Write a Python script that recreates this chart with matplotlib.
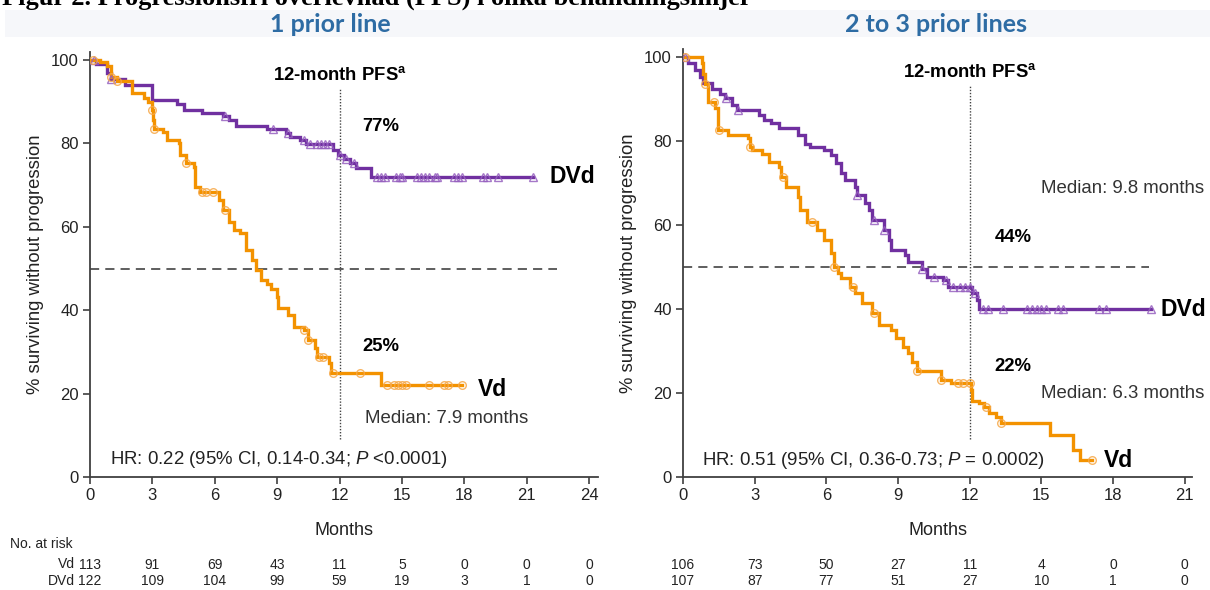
import numpy as np
import matplotlib
matplotlib.use("Agg")
import matplotlib.pyplot as plt
import matplotlib.transforms as mtransforms
from matplotlib.patches import Rectangle

# ----- fonts -----
plt.rcParams['font.family'] = ['Liberation Sans', 'DejaVu Sans']
plt.rcParams['mathtext.fontset'] = 'custom'
plt.rcParams['mathtext.rm'] = 'Liberation Sans'
plt.rcParams['mathtext.it'] = 'Liberation Sans:italic'
plt.rcParams['mathtext.bf'] = 'Liberation Sans:bold'
plt.rcParams['mathtext.default'] = 'regular'

# ----- colours -----
PURPLE = "#7030a0"
ORANGE = "#f39200"
PURPLE_MK = "#9660bf"
ORANGE_MK = "#f6a849"
AXIS = "#404040"
TITLE_BLUE = "#2e6ca4"

# ----- data: 1 prior line -----
L_VD_T = [0, 0.5, 0.8, 1.0, 1.3, 2.0, 2.6, 2.8, 3.0, 3.05, 3.1, 3.5, 3.7, 4.3, 4.35, 4.6,
          5.0, 5.05, 5.3, 6.2, 6.4, 6.7, 6.9, 7.2, 7.5, 7.8, 8.0, 8.2, 8.5, 8.7, 9.0, 9.05,
          9.5, 9.8, 10.3, 10.5, 10.8, 10.9, 11.5, 11.6, 14.0, 17.9]
L_VD_S = [100, 99.5, 98.5, 96, 95, 92, 91, 90, 88, 85.5, 83.5, 82.8, 80.8, 80, 77.2, 75.3,
          74.4, 69.6, 68.4, 66.4, 64, 61.2, 59.2, 58.4, 54.4, 52, 49.6, 47.2, 46.4, 45.2, 43.2, 40.5,
          38.8, 36, 35.2, 32.8, 30.9, 28.8, 27.3, 24.9, 22, 22]
L_VD_C = [0.15, 1.0, 1.3, 3.0, 3.1, 4.6, 5.4, 5.6, 5.9, 6.5, 10.3, 10.5, 11.0, 11.2, 11.7,
          13.0, 14.3, 14.6, 14.8, 15.0, 15.2, 16.3, 17.0, 17.2, 17.9]

L_DVD_T = [0, 0.3, 0.8, 1.0, 1.7, 3.0, 4.2, 4.5, 5.4, 6.4, 6.7, 7.0, 8.5, 9.4, 9.6, 10.1,
           10.4, 11.7, 11.9, 12.2, 12.5, 12.8, 13.5, 21.3]
L_DVD_S = [100, 99, 97, 95.5, 94, 90.5, 89.5, 88, 87.4, 86.5, 85.5, 84.2, 83.5, 82.5, 81.5, 80.8,
           79.8, 78.5, 77.2, 76.2, 75.2, 74.2, 72, 72]
L_DVD_C = [0.2, 1.0, 6.5, 8.8, 9.5, 10.3, 10.6, 10.9, 11.1, 11.3, 11.5, 12.0, 12.3, 12.7,
           13.8, 14.0, 14.2, 14.7, 14.9, 15.0, 15.7, 15.9, 16.1, 16.3, 16.6, 16.7, 17.5, 17.7,
           17.9, 18.9, 19.1, 19.6, 21.3]

L_TICKS = [0, 3, 6, 9, 12, 15, 18, 21, 24]
L_RISK_VD = [113, 91, 69, 43, 11, 5, 0, 0, 0]
L_RISK_DVD = [122, 109, 104, 99, 59, 19, 3, 1, 0]

# ----- data: 2 to 3 prior lines -----
R_VD_T = [0, 0.8, 0.85, 0.9, 1.05, 1.35, 1.45, 1.9, 2.7, 2.8, 2.9, 3.3, 3.6, 4.0, 4.1, 4.3,
          4.8, 4.9, 5.2, 5.6, 5.9, 6.2, 6.3, 6.5, 6.6, 7.0, 7.2, 7.5, 7.9, 8.2, 8.7, 8.9,
          9.2, 9.4, 9.6, 9.8, 10.8, 11.2, 12.05, 12.1, 12.4, 12.6, 12.8, 13.1, 13.3, 15.35,
          16.3, 16.6, 17.1]
R_VD_S = [100, 98.5, 96, 93.5, 89.4, 87.8, 82.6, 81.4, 80.7, 78.6, 77.9, 77, 75.1, 73.9, 71.5, 69.1,
          66.7, 63.6, 60.8, 58.8, 56.4, 53.3, 50.1, 48.6, 47.5, 45.3, 43.8, 41.4, 39, 36.2, 35, 33.1,
          31, 29.5, 27.5, 25.2, 23.1, 22.4, 20.7, 18, 17.6, 16.7, 15.2, 14.4, 12.8, 10,
          6.4, 4, 4]
R_VD_C = [0.1, 0.9, 1.3, 1.5, 2.8, 4.2, 5.4, 6.3, 7.1, 8.0, 9.8, 10.8, 11.5, 11.7, 12.0,
          12.7, 13.3, 17.1]

R_DVD_T = [0, 0.2, 0.5, 0.7, 0.85, 1.2, 1.55, 1.75, 2.05, 2.25, 3.2, 3.4, 3.7, 4.0, 4.8, 5.1,
           5.3, 5.9, 6.2, 6.4, 6.6, 6.8, 7.2, 7.3, 7.6, 7.8, 7.9, 8.4, 8.6, 8.7, 9.3, 9.4,
           10.0, 10.2, 10.9, 11.1, 12.1, 12.3, 12.4, 19.6]
R_DVD_S = [100, 98.5, 97, 95.3, 93.7, 92.5, 91.3, 90.2, 88.6, 87.4, 86.2, 85, 84.3, 83, 81.4, 79.4,
           78.6, 77.9, 76.7, 74.8, 72.3, 70.7, 69.1, 67.1, 65.2, 63.5, 61.2, 58.8, 56.4, 54, 52.9, 51.3,
           49.5, 47.7, 46.8, 45.3, 43.8, 42.1, 40, 40]
R_DVD_C = [0.1, 1.8, 2.3, 7.3, 8.0, 8.4, 10.0, 10.5, 11.0, 11.3, 11.6, 11.8, 12.0, 12.2,
           12.55, 12.76, 13.4, 14.4, 14.6, 14.8, 15.0, 15.2, 15.7, 15.9, 17.4, 17.7, 19.6]

R_TICKS = [0, 3, 6, 9, 12, 15, 18, 21]
R_RISK_VD = [106, 73, 50, 27, 11, 4, 0, 0]
R_RISK_DVD = [107, 87, 77, 51, 27, 10, 1, 0]

W, H = 1210, 590


def step_at(t, s, x):
    t = np.asarray(t)
    s = np.asarray(s)
    idx = np.searchsorted(t, x, side='right') - 1
    return s[np.clip(idx, 0, len(s) - 1)]


def draw_curve(ax, t, s, cens, color, mk_color, marker):
    ax.step(t, s, where='post', color=color, lw=2.4, zorder=3, solid_joinstyle='miter')
    ax.plot(cens, step_at(t, s, cens), linestyle='none', marker=marker, ms=5.5,
            mfc='none', mec=mk_color, mew=1.0, alpha=0.85, zorder=4)


def style_axes(ax, xmax, ticks):
    ax.set_xlim(0, xmax)
    ax.set_ylim(0, 102)
    ax.set_xticks(ticks)
    ax.set_yticks([0, 20, 40, 60, 80, 100])
    for side in ('top', 'right'):
        ax.spines[side].set_visible(False)
    for side in ('left', 'bottom'):
        ax.spines[side].set_color(AXIS)
        ax.spines[side].set_linewidth(1.3)
    ax.spines['bottom'].set_bounds(0, xmax)
    ax.tick_params(direction='out', length=5, width=1.2, color=AXIS,
                   labelsize=12, labelcolor='#222222', pad=3)
    ax.set_xlabel("Months", fontsize=13, color='#222222', labelpad=13.5)
    ax.set_ylabel("% surviving without progression", fontsize=13.3, color='#222222', labelpad=5)


def risk_row(fig, ax, ticks, values, ypix):
    tr = mtransforms.blended_transform_factory(ax.transData, fig.transFigure)
    for x, v in zip(ticks, values):
        ax.text(x, 1 - ypix / H, str(v), transform=tr, ha='center', va='center',
                fontsize=10, color='#222222', clip_on=False)


fig = plt.figure(figsize=(W / 100, H / 100), dpi=100)

# header (cut at top edge in the original)
fig.text(2 / W, 1 - 5 / H, "Figur 2. Progressionsfri överlevnad (PFS) i olika behandlingslinjer",
         fontsize=19, fontweight='bold', family='Liberation Serif', va='baseline', ha='left')
fig.patches.append(Rectangle((5 / W, 1 - 37 / H), 1, 27 / H, transform=fig.transFigure,
                             facecolor='#f6f7fa', edgecolor='none', zorder=0))

# ----- left panel -----
axL = fig.add_axes([90 / W, (H - 477) / H, 507.5 / W, 425.3 / H])
style_axes(axL, 24.4, L_TICKS)
axL.axhline(50, xmin=0, xmax=22.45 / 24.4, color='#333333', lw=1.1, ls=(0, (6, 4)), zorder=2)
axL.plot([12, 12], [9, 93], color='#444444', lw=1.0, ls=(0, (1, 1.2)), zorder=2)
draw_curve(axL, L_DVD_T, L_DVD_S, L_DVD_C, PURPLE, PURPLE_MK, '^')
draw_curve(axL, L_VD_T, L_VD_S, L_VD_C, ORANGE, ORANGE_MK, 'o')

axL.text(12, 96.5, "12-month PFS$^{a}$", ha='center', va='center', fontsize=13.3, fontweight='bold')
axL.text(14.0, 84, "77%", ha='center', va='center', fontsize=13.3, fontweight='bold')
axL.text(14.0, 31.2, "25%", ha='center', va='center', fontsize=13.3, fontweight='bold')
axL.text(22.1, 72, "DVd", ha='left', va='center', fontsize=16.5, fontweight='bold')
axL.text(18.65, 21.0, "Vd", ha='left', va='center', fontsize=16.5, fontweight='bold')
axL.text(13.2, 14.1, "Median: 7.9 months", ha='left', va='center', fontsize=13.4, color='#333333')
axL.text(0.96, 4.1, "HR: 0.22 (95% CI, 0.14-0.34; $\\it{P}$ <0.0001)", ha='left', va='center',
         fontsize=13.4, color='#222222')

fig.text(10 / W, 1 - 544 / H, "No. at risk", ha='left', va='center', fontsize=10, color='#222222')
fig.text(75 / W, 1 - 564 / H, "Vd", ha='right', va='center', fontsize=10, color='#222222')
fig.text(75 / W, 1 - 581 / H, "DVd", ha='right', va='center', fontsize=10, color='#222222')
risk_row(fig, axL, L_TICKS, L_RISK_VD, 565)
risk_row(fig, axL, L_TICKS, L_RISK_DVD, 581)

# ----- right panel -----
axR = fig.add_axes([683 / W, (H - 477) / H, 509 / W, 428.4 / H])
style_axes(axR, 21.3, R_TICKS)
axR.axhline(50, xmin=0, xmax=19.5 / 21.3, color='#333333', lw=1.1, ls=(0, (6, 4)), zorder=2)
axR.plot([12, 12], [9, 93], color='#444444', lw=1.0, ls=(0, (1, 1.2)), zorder=2)
draw_curve(axR, R_DVD_T, R_DVD_S, R_DVD_C, PURPLE, PURPLE_MK, '^')
draw_curve(axR, R_VD_T, R_VD_S, R_VD_C, ORANGE, ORANGE_MK, 'o')

axR.text(12, 96.5, "12-month PFS$^{a}$", ha='center', va='center', fontsize=13.3, fontweight='bold')
axR.text(13.8, 57.1, "44%", ha='center', va='center', fontsize=13.3, fontweight='bold')
axR.text(13.8, 26.4, "22%", ha='center', va='center', fontsize=13.3, fontweight='bold')
axR.text(15.0, 68.8, "Median: 9.8 months", ha='left', va='center', fontsize=13.4, color='#333333')
axR.text(15.0, 19.8, "Median: 6.3 months", ha='left', va='center', fontsize=13.4, color='#333333')
axR.text(20.0, 40, "DVd", ha='left', va='center', fontsize=16.5, fontweight='bold')
axR.text(17.6, 4.0, "Vd", ha='left', va='center', fontsize=16.5, fontweight='bold')
axR.text(0.8, 4.0, "HR: 0.51 (95% CI, 0.36-0.73; $\\it{P}$ = 0.0002)", ha='left', va='center',
         fontsize=13.4, color='#222222')

risk_row(fig, axR, R_TICKS, R_RISK_VD, 565)
risk_row(fig, axR, R_TICKS, R_RISK_DVD, 581)

# ----- panel titles -----
fig.text(330 / W, 1 - 24 / H, "1 prior line", ha='center', va='center', fontsize=18,
         fontweight='bold', family='Lato', color=TITLE_BLUE)
fig.text(936 / W, 1 - 24 / H, "2 to 3 prior lines", ha='center', va='center', fontsize=18,
         fontweight='bold', family='Lato', color=TITLE_BLUE)

fig.savefig("out.png", dpi=100)
